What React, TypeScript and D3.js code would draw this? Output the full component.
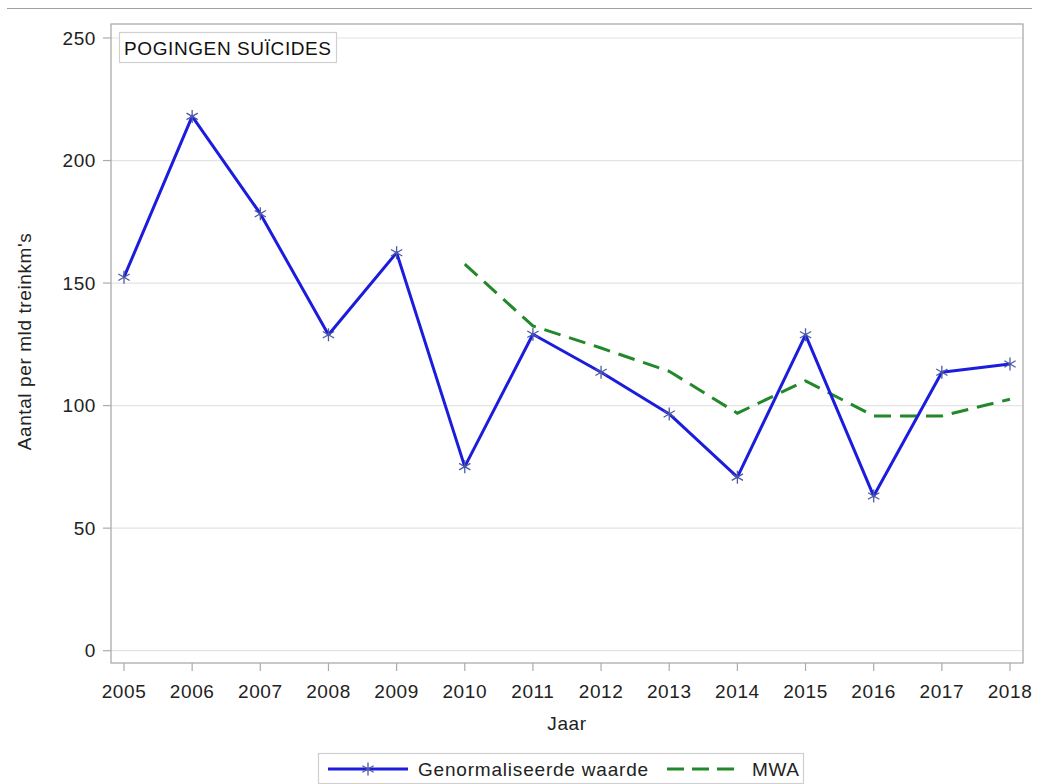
import * as d3 from "d3";

const years = [2005, 2006, 2007, 2008, 2009, 2010, 2011, 2012, 2013, 2014, 2015, 2016, 2017, 2018];
const genormaliseerd = [152.4, 218, 178.3, 128.9, 162.4, 75.1, 129.1, 113.6, 96.6, 70.8, 128.9, 63.1, 113.6, 117];
const mwaYears = [2010, 2011, 2012, 2013, 2014, 2015, 2016, 2017, 2018];
const mwa = [157.7, 132.5, 123.5, 114, 96.9, 110.1, 95.8, 95.8, 102.6];
const yTicks = [0, 50, 100, 150, 200, 250];

const W = 1042;
const H = 784;
const frame = { left: 111, top: 24, right: 1023, bottom: 663 };
const FONT = "'Liberation Sans', Arial, sans-serif";
const FS = 19;
const LS = 0.6;
const BLUE = "#1c1cdc";
const GREEN = "#23882a";
const MARKER = "#4b5aa6";

function Asterisk({ x, y, r = 6.5 }: { x: number; y: number; r?: number }) {
  const a = (Math.PI / 180) * 30;
  const dx = r * Math.cos(a);
  const dy = r * Math.sin(a);
  return (
    <g stroke={MARKER} strokeWidth={1.3}>
      <line x1={x} y1={y - r} x2={x} y2={y + r} />
      <line x1={x - dx} y1={y - dy} x2={x + dx} y2={y + dy} />
      <line x1={x - dx} y1={y + dy} x2={x + dx} y2={y - dy} />
    </g>
  );
}

export default function App() {
  const x = d3.scaleLinear().domain([2005, 2018]).range([124, 1010]);
  const y = d3.scaleLinear().domain([0, 250]).range([650.7, 38]);

  const line = d3
    .line<[number, number]>()
    .x((d) => x(d[0]))
    .y((d) => y(d[1]));

  const bluePts = years.map((yr, i) => [yr, genormaliseerd[i]] as [number, number]);
  const greenPts = mwaYears.map((yr, i) => [yr, mwa[i]] as [number, number]);

  return (
    <svg
      width={W}
      height={H}
      style={{ position: "absolute", left: 0, top: 0, background: "#fff" }}
      fontFamily={FONT}
      fontSize={FS}
      letterSpacing={LS}
    >
      {/* top rule */}
      <line x1={7} x2={1032} y1={8.5} y2={8.5} stroke="#a0a0a0" strokeWidth={1} />

      {/* gridlines */}
      {yTicks.map((t) => (
        <line
          key={"g" + t}
          x1={frame.left}
          x2={frame.right}
          y1={y(t)}
          y2={y(t)}
          stroke="#e4e4e4"
          strokeWidth={1.2}
        />
      ))}

      {/* frame */}
      <rect
        x={frame.left}
        y={frame.top}
        width={frame.right - frame.left}
        height={frame.bottom - frame.top}
        fill="none"
        stroke="#ababab"
        strokeWidth={1.3}
      />

      {/* y axis */}
      {yTicks.map((t) => (
        <g key={"y" + t}>
          <line x1={103} x2={frame.left} y1={y(t)} y2={y(t)} stroke="#ababab" strokeWidth={1.2} />
          <text x={96} y={y(t)} dy="0.35em" textAnchor="end" fill="#222">
            {t}
          </text>
        </g>
      ))}
      <text
        transform={`translate(31,${(frame.top + frame.bottom) / 2 - 2}) rotate(-90)`}
        textAnchor="middle"
        fill="#222"
      >
        Aantal per mld treinkm's
      </text>

      {/* x axis */}
      {years.map((yr) => (
        <g key={"x" + yr}>
          <line x1={x(yr)} x2={x(yr)} y1={frame.bottom} y2={frame.bottom + 8} stroke="#ababab" strokeWidth={1.2} />
          <text x={x(yr)} y={698} textAnchor="middle" fill="#222">
            {yr}
          </text>
        </g>
      ))}
      <text x={(frame.left + frame.right) / 2} y={730} textAnchor="middle" fill="#222">
        Jaar
      </text>

      {/* title box */}
      <rect x={119.5} y={32.5} width={217} height={30} fill="#fff" stroke="#d0d0d0" strokeWidth={1.2} />
      <text x={124} y={55} fill="#111">
        POGINGEN SUÏCIDES
      </text>

      {/* series */}
      <path d={line(greenPts) ?? ""} fill="none" stroke={GREEN} strokeWidth={3} strokeDasharray="17,9" />
      <path d={line(bluePts) ?? ""} fill="none" stroke={BLUE} strokeWidth={3} strokeLinejoin="round" />
      {bluePts.map((p) => (
        <Asterisk key={"m" + p[0]} x={x(p[0])} y={y(p[1])} />
      ))}

      {/* legend */}
      <rect x={318.5} y={753.5} width={485} height={30} fill="#fff" stroke="#cfcfcf" strokeWidth={1.2} />
      <line x1={328} x2={408} y1={769} y2={769} stroke={BLUE} strokeWidth={3} />
      <Asterisk x={368} y={769} />
      <text x={418} y={769} dy="0.35em" fill="#222" letterSpacing={0.8}>
        Genormaliseerde waarde
      </text>
      <line x1={667} x2={735} y1={769} y2={769} stroke={GREEN} strokeWidth={3} strokeDasharray="17,8" />
      <text x={752} y={769} dy="0.35em" fill="#222">
        MWA
      </text>
    </svg>
  );
}
